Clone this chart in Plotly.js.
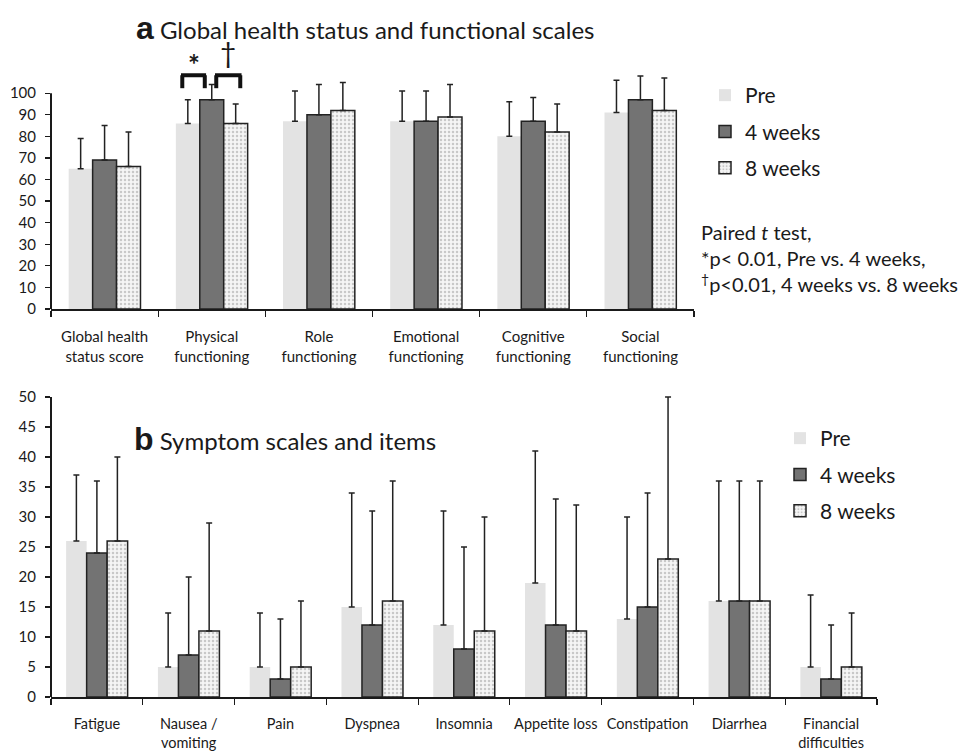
<!DOCTYPE html>
<html>
<head>
<meta charset="utf-8">
<script src="https://cdn.plot.ly/plotly-3.0.1.min.js"></script>
<style>html,body{margin:0;padding:0;background:#fff;}</style>
</head>
<body>
<div id="chart" style="width:971px;height:753px;"></div>
<script>
// ---- Data: panel a (Global health status and functional scales) ----
const catsA = ["Global health<br>status score", "Physical<br>functioning", "Role<br>functioning",
               "Emotional<br>functioning", "Cognitive<br>functioning", "Social<br>functioning"];
const preA   = [65, 86, 87, 87, 80, 91];
const preA_sd = [14, 11, 14, 14, 16, 15];
const w4A    = [69, 97, 90, 87, 87, 97];
const w4A_sd = [16, 7, 14, 14, 11, 11];
const w8A    = [66, 86, 92, 89, 82, 92];
const w8A_sd = [16, 9, 13, 15, 13, 15];
const yTicksA = [0, 10, 20, 30, 40, 50, 60, 70, 80, 90, 100];

// ---- Data: panel b (Symptom scales and items) ----
const catsB = ["Fatigue", "Nausea /<br>vomiting", "Pain", "Dyspnea", "Insomnia",
               "Appetite loss", "Constipation", "Diarrhea", "Financial<br>difficulties"];
const preB   = [26, 5, 5, 15, 12, 19, 13, 16, 5];
const preB_sd = [11, 9, 9, 19, 19, 22, 17, 20, 12];
const w4B    = [24, 7, 3, 12, 8, 12, 15, 16, 3];
const w4B_sd = [12, 13, 10, 19, 17, 21, 19, 20, 9];
const w8B    = [26, 11, 5, 16, 11, 11, 23, 16, 5];
const w8B_sd = [14, 18, 11, 20, 19, 21, 27, 20, 9];
const yTicksB = [0, 5, 10, 15, 20, 25, 30, 35, 40, 45, 50];

const seriesNames = ["Pre", "4 weeks", "8 weeks"];

// ---- Styles ----
const FONT = "Lato, 'Open Sans', sans-serif";
const INK = "#1a1a1a";
const styles = [
  {color: "#e3e3e3", line: {color: "#e3e3e3", width: 0}},
  {color: "#737373", line: {color: "#222", width: 1.5}},
  {color: "#f3f3f3", line: {color: "#222", width: 1.5},
   pattern: {shape: ".", fgcolor: "#c8c8c8", bgcolor: "#f5f5f5", size: 4, solidity: 0.3}}
];

function mkBar(cats, vals, sd, i, xa, ya, legend) {
  return {
    type: "bar", x: cats, y: vals, name: seriesNames[i],
    xaxis: xa, yaxis: ya, legend: legend, legendgroup: legend + i,
    marker: styles[i],
    error_y: {type: "data", symmetric: false, array: sd, arrayminus: sd.map(() => 0),
              color: "#222", thickness: 1.5, width: 3},
    cliponaxis: false,
    hoverinfo: "y"
  };
}

const traces = [
  mkBar(catsA, preA, preA_sd, 0, "x", "y", "legend"),
  mkBar(catsA, w4A, w4A_sd, 1, "x", "y", "legend"),
  mkBar(catsA, w8A, w8A_sd, 2, "x", "y", "legend"),
  mkBar(catsB, preB, preB_sd, 0, "x2", "y2", "legend2"),
  mkBar(catsB, w4B, w4B_sd, 1, "x2", "y2", "legend2"),
  mkBar(catsB, w8B, w8B_sd, 2, "x2", "y2", "legend2")
];

const W = 971, H = 753;
const px = v => v / W, py = v => 1 - v / H;

const xBase = {
  type: "category", tickson: "boundaries", ticks: "outside", ticklen: 6, tickwidth: 1.2,
  tickcolor: INK, showline: true, linecolor: INK, linewidth: 2, showgrid: false, tickangle: 0,
  tickfont: {family: FONT, size: 15, color: INK}, ticklabelstandoff: 13, zeroline: false
};
const yBase = {
  ticks: "outside", ticklen: 5, tickwidth: 1.2, tickcolor: INK, showline: false,
  showgrid: false, zeroline: false, tickfont: {family: FONT, size: 15, color: INK},
  ticklabelstandoff: 6
};

// significance brackets (panel a, Physical functioning = index 1)
const bracketY = [102.3, 108.3];
const brackets = [[1 - 0.275, 1 - 0.065], [1 + 0.042, 1 + 0.266]];
const shapes = [];
brackets.forEach(([a, b]) => {
  const ln = {color: "#111", width: 4};
  shapes.push({type: "line", xref: "x", yref: "y", x0: a, x1: a, y0: bracketY[0], y1: bracketY[1], line: ln});
  shapes.push({type: "line", xref: "x", yref: "y", x0: b, x1: b, y0: bracketY[0], y1: bracketY[1], line: ln});
  shapes.push({type: "line", xref: "x", yref: "y", x0: a - 0.012, x1: b + 0.012, y0: bracketY[1], y1: bracketY[1], line: ln});
});
// y axis lines
shapes.push({type: "line", xref: "x domain", yref: "y", x0: 0, x1: 0, y0: 0, y1: 100, line: {color: INK, width: 2}});
shapes.push({type: "line", xref: "x2 domain", yref: "y2", x0: 0, x1: 0, y0: 0, y1: 50, line: {color: INK, width: 2}});

const layout = {
  width: W, height: H, autosize: false,
  margin: {l: 0, r: 0, t: 0, b: 0},
  paper_bgcolor: "#fff", plot_bgcolor: "#fff",
  font: {family: FONT, color: INK},
  barmode: "group", bargap: 0.33, bargroupgap: 0,
  xaxis: Object.assign({}, xBase, {domain: [px(51), px(694)], anchor: "y", range: [-0.5, 5.5]}),
  yaxis: Object.assign({}, yBase, {domain: [py(309), py(50)], anchor: "x", range: [0, 120], tickvals: yTicksA}),
  xaxis2: Object.assign({}, xBase, {domain: [px(51), px(877)], anchor: "y2", range: [-0.5, 8.5],
           tickfont: {family: FONT, size: 14.5, color: INK}}),
  yaxis2: Object.assign({}, yBase, {domain: [py(697), py(391)], anchor: "x2", range: [0, 51], tickvals: yTicksB}),
  legend: {x: px(705), y: py(75), xanchor: "left", yanchor: "top", traceorder: "grouped",
           tracegroupgap: 6, font: {family: FONT, size: 21, color: INK}, bgcolor: "rgba(0,0,0,0)"},
  legend2: {x: px(780), y: py(418), xanchor: "left", yanchor: "top", traceorder: "grouped",
           tracegroupgap: 6, font: {family: FONT, size: 21, color: INK}, bgcolor: "rgba(0,0,0,0)"},
  shapes: shapes,
  annotations: [
    {xref: "paper", yref: "paper", x: px(134), y: py(28), xanchor: "left", yanchor: "middle", showarrow: false,
     text: "<span style='font-family:Liberation Sans, Arial;font-weight:bold;font-size:32px'>a</span> Global health status and functional scales",
     font: {family: FONT, size: 24, color: INK}},
    {xref: "paper", yref: "paper", x: px(132), y: py(439), xanchor: "left", yanchor: "middle", showarrow: false,
     text: "<span style='font-family:Liberation Sans, Arial;font-weight:bold;font-size:32px'>b</span> Symptom scales and items",
     font: {family: FONT, size: 24, color: INK}},
    {xref: "x", yref: "y", x: 1 - 0.17, y: 113.5, showarrow: false, text: "<b>*</b>",
     font: {family: FONT, size: 28, color: INK}},
    {xref: "x", yref: "y", x: 1 + 0.154, y: 119, showarrow: false, text: "†",
     font: {family: FONT, size: 28, color: INK}},
    {xref: "paper", yref: "paper", x: px(699), y: py(258), xanchor: "left", yanchor: "middle", showarrow: false,
     align: "left",
     text: "Paired <i>t</i> test,<br>*p&lt; 0.01, Pre vs. 4 weeks,<br><sup>†</sup>p&lt;0.01, 4 weeks vs. 8 weeks",
     font: {family: FONT, size: 20, color: INK}}
  ]
};

Plotly.newPlot("chart", traces, layout, {displayModeBar: false, staticPlot: true});
</script>
</body>
</html>
